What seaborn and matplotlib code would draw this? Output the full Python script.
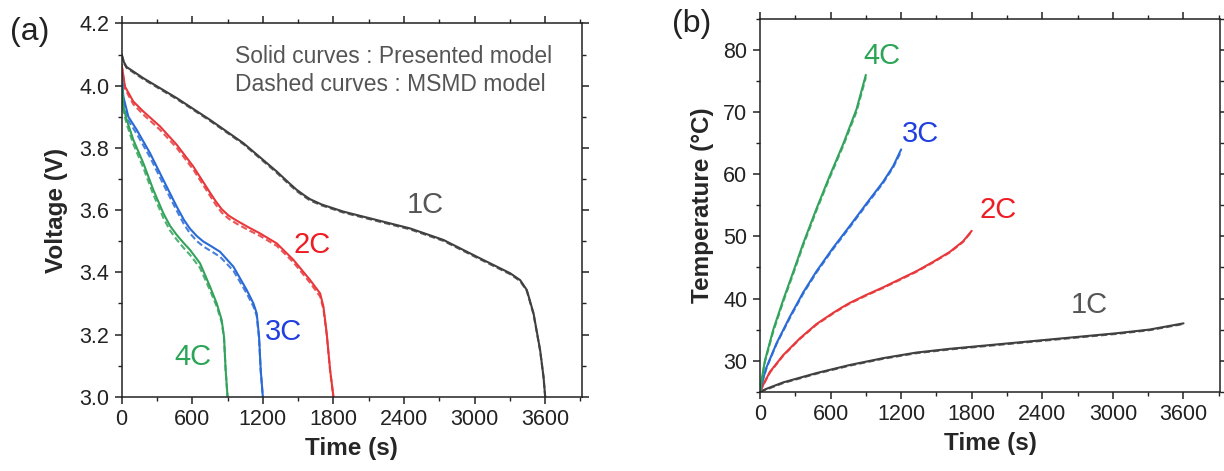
import numpy as np
import pandas as pd
import matplotlib
matplotlib.use("Agg")
import matplotlib.pyplot as plt
import seaborn as sns
from matplotlib.ticker import MultipleLocator, FormatStrFormatter

# ---------------- data ----------------
# Panel (a): voltage vs time
t_1c_v = [0, 20, 42, 184, 468, 751, 1035, 1318, 1420, 1488, 1550, 1601, 1700, 1885, 2168, 2452, 2735, 3019, 3302, 3387, 3444, 3501, 3557, 3586, 3600]
v_1c_solid = [4.10, 4.075, 4.060, 4.024, 3.96, 3.89, 3.815, 3.724, 3.688, 3.665, 3.648, 3.635, 3.618, 3.595, 3.568, 3.541, 3.504, 3.45, 3.397, 3.375, 3.343, 3.268, 3.15, 3.064, 3.0]
v_1c_dash = [4.10, 4.072, 4.057, 4.021, 3.957, 3.887, 3.812, 3.720, 3.684, 3.661, 3.644, 3.631, 3.615, 3.592, 3.565, 3.538, 3.501, 3.447, 3.394, 3.372, 3.340, 3.265, 3.148, 3.062, 3.0]

t_2c_v = [0, 28, 99, 184, 326, 468, 609, 751, 800, 850, 910, 978, 1076, 1176, 1318, 1460, 1602, 1687, 1715, 1743, 1772, 1800]
v_2c_solid = [4.067, 3.997, 3.949, 3.917, 3.869, 3.81, 3.74, 3.656, 3.628, 3.603, 3.582, 3.566, 3.545, 3.525, 3.493, 3.44, 3.375, 3.332, 3.29, 3.204, 3.086, 3.0]
v_2c_dash = [4.067, 3.990, 3.940, 3.907, 3.858, 3.80, 3.73, 3.646, 3.617, 3.592, 3.572, 3.556, 3.536, 3.517, 3.485, 3.432, 3.366, 3.322, 3.282, 3.198, 3.082, 3.0]

t_3c_v = [0, 14, 57, 128, 241, 354, 468, 530, 581, 640, 694, 760, 836, 950, 1063, 1120, 1148, 1168, 1182, 1200]
v_3c_solid = [4.04, 3.965, 3.90, 3.858, 3.783, 3.697, 3.611, 3.568, 3.540, 3.516, 3.499, 3.484, 3.466, 3.418, 3.343, 3.30, 3.268, 3.193, 3.086, 3.0]
v_3c_dash = [4.04, 3.955, 3.888, 3.845, 3.770, 3.683, 3.598, 3.554, 3.525, 3.500, 3.483, 3.468, 3.450, 3.405, 3.332, 3.29, 3.260, 3.186, 3.082, 3.0]

t_4c_v = [0, 14, 43, 99, 184, 269, 354, 410, 468, 525, 581, 666, 751, 808, 850, 870, 884, 900]
v_4c_solid = [4.02, 3.933, 3.89, 3.826, 3.751, 3.665, 3.59, 3.550, 3.520, 3.495, 3.472, 3.429, 3.354, 3.30, 3.247, 3.193, 3.086, 3.0]
v_4c_dash = [4.02, 3.920, 3.876, 3.812, 3.736, 3.650, 3.575, 3.535, 3.505, 3.479, 3.456, 3.414, 3.342, 3.29, 3.240, 3.188, 3.082, 3.0]

# Panel (b): temperature vs time
t_1c_T = [0, 60, 198, 481, 764, 1047, 1330, 1613, 1896, 2179, 2462, 2745, 3028, 3311, 3600]
T_1c_solid = [25.0, 25.5, 26.5, 28.0, 29.3, 30.4, 31.3, 31.9, 32.4, 32.9, 33.4, 33.9, 34.4, 35.0, 36.0]
T_1c_dash = [25.0, 25.4, 26.4, 27.9, 29.2, 30.3, 31.2, 31.8, 32.3, 32.8, 33.3, 33.8, 34.3, 34.9, 35.9]

t_2c_T = [0, 40, 85, 198, 340, 481, 623, 700, 764, 840, 906, 1047, 1189, 1330, 1472, 1613, 1726, 1800]
T_2c_solid = [25.0, 26.6, 28.2, 30.9, 33.6, 35.9, 37.7, 38.6, 39.3, 40.0, 40.6, 41.8, 43.1, 44.4, 45.9, 47.5, 49.2, 50.9]
T_2c_dash = [25.0, 26.5, 28.1, 30.8, 33.5, 35.8, 37.6, 38.5, 39.2, 39.9, 40.5, 41.7, 43.0, 44.3, 45.8, 47.4, 49.1, 50.8]

t_3c_T = [0, 25, 57, 141, 255, 368, 481, 623, 764, 906, 1047, 1132, 1200]
T_3c_solid = [25.0, 27.0, 29.0, 32.8, 37.1, 41.0, 44.4, 48.2, 51.7, 55.3, 58.8, 61.3, 64.0]
T_3c_dash = [25.0, 26.9, 28.9, 32.7, 36.9, 40.8, 44.2, 48.0, 51.5, 55.1, 58.6, 61.1, 63.7]

t_4c_T = [0, 20, 42, 113, 198, 283, 368, 481, 594, 708, 821, 900]
T_4c_solid = [25.0, 27.6, 30.0, 35.0, 39.8, 44.3, 48.9, 54.5, 59.8, 64.9, 70.5, 76.0]
T_4c_dash = [25.0, 27.4, 29.8, 34.7, 39.5, 44.0, 48.6, 54.2, 59.5, 64.6, 70.1, 75.6]

rates = ["1C", "2C", "3C", "4C"]
colors = {"1C": "#404040", "2C": "#e8383b", "3C": "#2a6ad6", "4C": "#33a35c"}
label_colors = {"1C": "#555555", "2C": "#ee1c24", "3C": "#1f3fe0", "4C": "#2aa556"}

volt = {
    "1C": (t_1c_v, v_1c_solid, v_1c_dash),
    "2C": (t_2c_v, v_2c_solid, v_2c_dash),
    "3C": (t_3c_v, v_3c_solid, v_3c_dash),
    "4C": (t_4c_v, v_4c_solid, v_4c_dash),
}
temp = {
    "1C": (t_1c_T, T_1c_solid, T_1c_dash),
    "2C": (t_2c_T, T_2c_solid, T_2c_dash),
    "3C": (t_3c_T, T_3c_solid, T_3c_dash),
    "4C": (t_4c_T, T_4c_solid, T_4c_dash),
}

# label positions (data coords)
volt_lbl = {"1C": (2579, 3.616), "2C": (1616, 3.488), "3C": (1372, 3.209), "4C": (606, 3.129)}
temp_lbl = {"1C": (2796, 39.0), "2C": (2023, 54.2), "3C": (1364, 66.5), "4C": (1033, 79.0)}

# ---------------- style ----------------
sns.set_theme(style="ticks")
plt.rcParams["font.family"] = ["Liberation Sans", "DejaVu Sans"]
plt.rcParams.update({
    "axes.linewidth": 1.1,
    "xtick.major.width": 1.1, "ytick.major.width": 1.1,
    "xtick.minor.width": 1.0, "ytick.minor.width": 1.0,
    "xtick.major.size": 5, "ytick.major.size": 5,
    "xtick.minor.size": 3, "ytick.minor.size": 3,
    "xtick.direction": "out", "ytick.direction": "out",
    "axes.edgecolor": "#222222",
    "xtick.color": "#222222", "ytick.color": "#222222",
})

fig = plt.figure(figsize=(12.24, 4.71), dpi=100)
ax1 = fig.add_axes([0.0994, 0.1577, 0.4752 - 0.0994, 0.9503 - 0.1577])
ax2 = fig.add_axes([0.6209, 0.1684, 0.9967 - 0.6209, 0.9597 - 0.1684])


def draw(ax, data):
    for r in rates:
        t, ys, yd = data[r]
        df = pd.DataFrame({"t": t, "solid": ys, "dash": yd})
        sns.lineplot(data=df, x="t", y="solid", ax=ax, color=colors[r], lw=1.5,
                     sort=False, estimator=None)
        sns.lineplot(data=df, x="t", y="dash", ax=ax, color=colors[r], lw=1.5,
                     sort=False, estimator=None, linestyle=(0, (3, 1.5)), alpha=0.85)


draw(ax1, volt)
draw(ax2, temp)

for ax in (ax1, ax2):
    ax.set_xlim(0, 3910)
    ax.xaxis.set_major_locator(MultipleLocator(600))
    ax.xaxis.set_minor_locator(MultipleLocator(300))
    ax.tick_params(which="both", top=True, right=True, labelsize=15.5, pad=4)
    ax.set_xlabel("Time (s)", fontsize=17.5, fontweight="bold", labelpad=5)

ax1.set_ylim(3.0, 4.2)
ax1.yaxis.set_major_locator(MultipleLocator(0.2))
ax1.yaxis.set_minor_locator(MultipleLocator(0.1))
ax1.yaxis.set_major_formatter(FormatStrFormatter("%.1f"))
ax1.set_ylabel("Voltage (V)", fontsize=17.5, fontweight="bold", labelpad=8)

ax2.set_ylim(25, 85)
ax2.yaxis.set_major_locator(MultipleLocator(10))
ax2.yaxis.set_minor_locator(MultipleLocator(5))
ax2.set_yticks([30, 40, 50, 60, 70, 80])
ax2.set_ylabel("Temperature (°C)", fontsize=17.5, fontweight="bold", labelpad=7)

for r in rates:
    ax1.text(*volt_lbl[r], r, color=label_colors[r], fontsize=21, ha="center", va="center")
    ax2.text(*temp_lbl[r], r, color=label_colors[r], fontsize=21, ha="center", va="center")

ax1.text(0.246, 0.911, "Solid curves : Presented model", transform=ax1.transAxes,
         fontsize=16.5, color="#555555", ha="left", va="center")
ax1.text(0.246, 0.837, "Dashed curves : MSMD model", transform=ax1.transAxes,
         fontsize=16.5, color="#555555", ha="left", va="center")

fig.text(30 / 1224, 1 - 32 / 471, "(a)", fontsize=23, ha="center", va="center", color="#222222")
fig.text(692 / 1224, 1 - 24 / 471, "(b)", fontsize=23, ha="center", va="center", color="#222222")

fig.savefig("out.png", dpi=100)
